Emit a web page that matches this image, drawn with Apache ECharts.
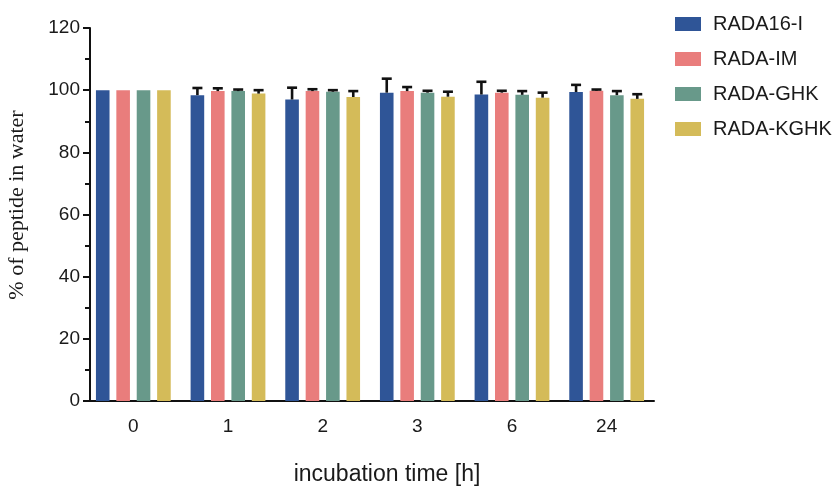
<!DOCTYPE html>
<html>
<head>
<meta charset="utf-8">
<script src="https://cdn.jsdelivr.net/npm/echarts@6/dist/echarts.min.js"></script>
<style>
  html, body { margin: 0; padding: 0; background: #fff; }
  #chart { width: 837px; height: 486px; }
</style>
</head>
<body>
<div id="chart"></div>
<script>
// incubation time points
var categories = ['0', '1', '2', '3', '6', '24'];
var seriesNames = ['RADA16-I', 'RADA-IM', 'RADA-GHK', 'RADA-KGHK'];

// mean % of peptide in water
var rada16Mean = [100, 98.4, 97.0, 99.2, 98.6, 99.4];
var radaImMean = [100, 99.7, 99.7, 99.7, 99.2, 99.8];
var radaGhkMean = [100, 99.7, 99.5, 99.2, 98.5, 98.4];
var radaKghkMean = [100, 98.9, 97.8, 97.9, 97.6, 97.2];

// error (upper bar only)
var rada16Err = [0, 2.3, 3.8, 4.5, 4.1, 2.3];
var radaImErr = [0, 0.9, 0.6, 1.3, 0.6, 0.4];
var radaGhkErr = [0, 0.5, 0.5, 0.6, 1.2, 1.3];
var radaKghkErr = [0, 1.1, 1.9, 1.6, 1.6, 1.5];

var yTicks = [0, 20, 40, 60, 80, 100, 120];

var colors = ['#2f5597', '#e97d7c', '#68998a', '#d4bb59'];
var means = [rada16Mean, radaImMean, radaGhkMean, radaKghkMean];
var errs = [rada16Err, radaImErr, radaGhkErr, radaKghkErr];

var catGap = 0.21, barGapRatio = 0.5;

var chart = echarts.init(document.getElementById('chart'));

var errData = [];
means.forEach(function (m, s) {
  m.forEach(function (v, i) {
    if (errs[s][i] > 0) errData.push([i, v, v + errs[s][i], s]);
  });
});

var series = seriesNames.map(function (name, s) {
  return {
    name: name,
    type: 'bar',
    barCategoryGap: (catGap * 100) + '%',
    barGap: (barGapRatio * 100) + '%',
    itemStyle: { color: colors[s] },
    data: means[s]
  };
});

series.push({
  type: 'custom',
  name: 'err',
  z: 5,
  silent: true,
  renderItem: function (params, api) {
    var cat = api.value(0), s = api.value(3);
    var bw = api.size([1, 0])[0];
    var n = seriesNames.length;
    var barW = bw * (1 - catGap) / (n + (n - 1) * barGapRatio);
    var off = -bw * (1 - catGap) / 2 + s * barW * (1 + barGapRatio) + barW / 2;
    var p0 = api.coord([cat, api.value(1)]);
    var p1 = api.coord([cat, api.value(2)]);
    var x = p0[0] + off;
    var cap = 5;
    var st = { stroke: '#111', lineWidth: 2.6 };
    return {
      type: 'group',
      children: [
        { type: 'line', shape: { x1: x, y1: p0[1], x2: x, y2: p1[1] }, style: st },
        { type: 'line', shape: { x1: x - cap, y1: p1[1], x2: x + cap, y2: p1[1] }, style: st }
      ]
    };
  },
  data: errData
});

var option = {
  animation: false,
  grid: { left: 86, right: 183, top: 28, bottom: 85, outerBoundsMode: 'none' },
  legend: {
    orient: 'vertical',
    left: 670,
    top: 9,
    itemWidth: 26,
    itemHeight: 14,
    itemGap: 15,
    icon: 'rect',
    textStyle: {
      fontFamily: 'Liberation Sans, Arial, sans-serif',
      fontSize: 20,
      color: '#1a1a1a',
      padding: [0, 0, 0, 7]
    },
    data: seriesNames
  },
  xAxis: {
    type: 'category',
    data: categories,
    name: 'incubation time [h]',
    nameLocation: 'middle',
    nameGap: 62,
    nameTextStyle: {
      fontFamily: 'Liberation Sans, Arial, sans-serif',
      fontSize: 23,
      color: '#1a1a1a',
      padding: [0, 0, 0, 34]
    },
    axisLine: { lineStyle: { color: '#111', width: 2 } },
    axisTick: { alignWithLabel: true, length: 7, lineStyle: { color: '#111', width: 2 } },
    axisLabel: { fontFamily: 'Liberation Sans, Arial, sans-serif', fontSize: 19, color: '#1a1a1a', margin: 16 }
  },
  yAxis: {
    type: 'value',
    min: yTicks[0],
    max: yTicks[yTicks.length - 1],
    interval: 20,
    offset: -4,
    name: '% of peptide in water',
    nameLocation: 'middle',
    nameGap: 62,
    nameTextStyle: {
      fontFamily: 'Liberation Serif, Times New Roman, serif',
      fontSize: 22,
      color: '#1a1a1a',
      padding: [0, 0, 0, 19]
    },
    axisLine: { show: true, lineStyle: { color: '#111', width: 2 } },
    axisTick: { show: true, length: 7, lineStyle: { color: '#111', width: 2 } },
    minorTick: { show: true, splitNumber: 2, length: 5, lineStyle: { color: '#111', width: 2 } },
    splitLine: { show: false },
    axisLabel: { fontFamily: 'Liberation Sans, Arial, sans-serif', fontSize: 19, color: '#1a1a1a', margin: 10 }
  },
  series: series
};

chart.setOption(option);
</script>
</body>
</html>
